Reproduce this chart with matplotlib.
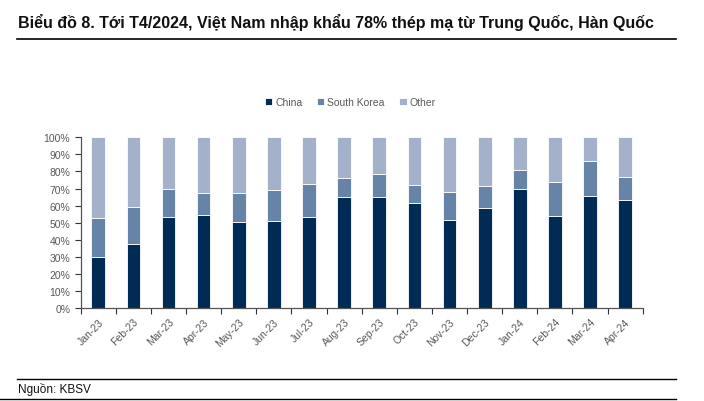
import matplotlib
matplotlib.use("Agg")
import matplotlib.pyplot as plt
import matplotlib.ticker as mticker
import numpy as np

plt.rcParams['font.family'] = ['Liberation Sans', 'DejaVu Sans']

months = ['Jan-23', 'Feb-23', 'Mar-23', 'Apr-23', 'May-23', 'Jun-23', 'Jul-23', 'Aug-23',
          'Sep-23', 'Oct-23', 'Nov-23', 'Dec-23', 'Jan-24', 'Feb-24', 'Mar-24', 'Apr-24']
china = [30.0, 37.5, 53.1, 54.5, 50.6, 51.2, 53.1, 64.8, 64.8, 61.7, 51.8, 58.8, 69.9, 53.7, 65.8, 63.5]
korea = [22.7, 21.9, 16.8, 13.1, 16.6, 17.9, 19.8, 11.6, 13.9, 10.6, 16.4, 12.7, 10.8, 20.3, 20.1, 13.5]
other = [100 - c - k for c, k in zip(china, korea)]

c_china = '#002b55'
c_korea = '#6584a8'
c_other = '#a4b1ca'
grey = '#595959'

fig = plt.figure(figsize=(7.04, 4.02), dpi=100)
ax = fig.add_axes([0.1146, 0.2313, 0.7984, 0.4246])

x = np.arange(len(months))
w = 0.39
ax.bar(x, china, w, color=c_china, edgecolor='white', linewidth=0.6, label='China')
ax.bar(x, korea, w, bottom=china, color=c_korea, edgecolor='white', linewidth=0.6, label='South Korea')
bot2 = [c + k for c, k in zip(china, korea)]
ax.bar(x, other, w, bottom=bot2, color=c_other, edgecolor='white', linewidth=0.6, label='Other')

ax.set_xlim(-0.5, len(months) - 0.5)
ax.set_ylim(0, 100)
ax.yaxis.set_major_locator(mticker.MultipleLocator(10))
ax.yaxis.set_major_formatter(mticker.FuncFormatter(lambda v, p: '%d%%' % v))

ax.set_xticks(x)
ax.set_xticklabels(months, rotation=45, ha='right', rotation_mode='anchor')
ax.set_xticks(np.arange(-0.5, len(months)), minor=True)
ax.tick_params(axis='x', which='major', length=0, labelsize=7.5, labelcolor=grey, pad=6)
ax.tick_params(axis='x', which='minor', length=4, color='#333333', width=0.8)
ax.tick_params(axis='y', length=4, color='#333333', width=0.8, labelsize=7.5, labelcolor=grey)

for s in ['top', 'right']:
    ax.spines[s].set_visible(False)
for s in ['left', 'bottom']:
    ax.spines[s].set_color('#555555')
    ax.spines[s].set_linewidth(0.9)

leg = ax.legend(loc='lower center', bbox_to_anchor=(0.48, 1.12), ncol=3, frameon=False,
                fontsize=7.5, handlelength=0.7, handleheight=0.7, handletextpad=0.3,
                columnspacing=1.4)
for t in leg.get_texts():
    t.set_color(grey)

fig.text(0.026, 0.945, 'Biểu đồ 8. Tới T4/2024, Việt Nam nhập khẩu 78% thép mạ từ Trung Quốc, Hàn Quốc',
         fontsize=11.5, fontweight='bold', color='#111111', va='center', ha='left')
fig.add_artist(plt.Line2D([0.024, 0.960], [0.901, 0.901], color='black', linewidth=1.2))
fig.add_artist(plt.Line2D([0.024, 0.960], [0.055, 0.055], color='black', linewidth=1.0))
fig.add_artist(plt.Line2D([0.0, 0.960], [0.005, 0.005], color='black', linewidth=1.0))
fig.text(0.026, 0.031, 'Nguồn: KBSV', fontsize=8.5, color='#111111', va='center', ha='left')

fig.savefig('out.png', dpi=100)
